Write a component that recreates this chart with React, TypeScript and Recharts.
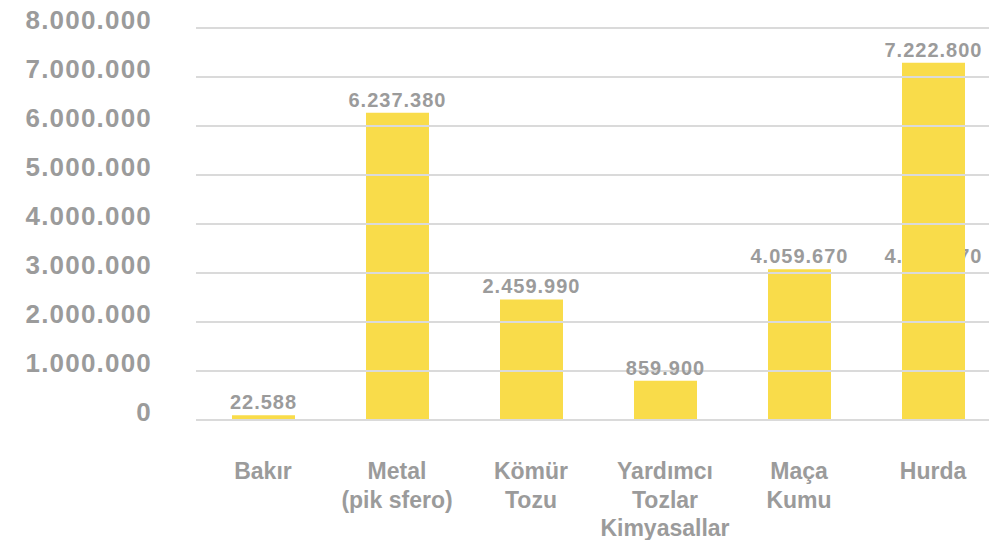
import { Bar, BarChart, LabelList, ReferenceLine, XAxis, YAxis } from 'recharts'

const categories = ['Bakır', 'Metal\n(pik sfero)', 'Kömür\nTozu', 'Yardımcı\nTozlar\nKimyasallar', 'Maça\nKumu', 'Hurda']
const barHeights = [95000, 6270000, 2460000, 800000, 3075000, 7290000]
const barLabels = ['22.588', '6.237.380', '2.459.990', '859.900', '4.059.670', '7.222.800']
// stray label sitting behind the Hurda bar in the original
const ghostHeights = [null, null, null, null, null, 3075000]
const ghostLabels = ['', '', '', '', '', '4.059.670']
const yTicks = [0, 1000000, 2000000, 3000000, 4000000, 5000000, 6000000, 7000000, 8000000]

const data = categories.map((name, i) => ({
  name,
  value: barHeights[i],
  label: barLabels[i],
  ghost: ghostHeights[i],
  ghostLabel: ghostLabels[i],
}))

const GRAY = '#9b9b9b'
const YELLOW = '#f9dc4a'
const FONT = '"Liberation Sans", Arial, sans-serif'

const fmt = (v: number) => v.toString().replace(/\B(?=(\d{3})+(?!\d))/g, '.')

function YTick({ x, y, payload }: any) {
  return (
    <text x={x} y={y + 1} textAnchor="end" fill={GRAY} fontSize={26} fontWeight={700} letterSpacing={1.2} fontFamily={FONT}>
      {fmt(payload.value)}
    </text>
  )
}

function XTick({ x, y, payload }: any) {
  const lines = String(payload.value).split('\n')
  return (
    <text x={x} y={y} textAnchor="middle" fill={GRAY} fontSize={23} fontWeight={700} fontFamily={FONT}>
      {lines.map((l, i) => (
        <tspan key={i} x={x} dy={i === 0 ? 59 : 28.5}>{l}</tspan>
      ))}
    </text>
  )
}

function GhostShape(props: any) {
  const lbl = props.ghostLabel ?? props.payload?.ghostLabel
  if (!lbl) return null
  return (
    <text x={props.x + props.width / 2} y={props.y - 6} textAnchor="middle" fill={GRAY} fontSize={20} fontWeight={700} letterSpacing={1} fontFamily={FONT}>
      {lbl}
    </text>
  )
}

export default function App() {
  return (
    <div style={{ position: 'absolute', left: 0, top: 0, width: 989, height: 540, overflow: 'hidden', background: '#fff' }}>
      <BarChart width={1000} height={540} data={data} margin={{ top: 28, right: 0, bottom: 0, left: 0 }}>
        <XAxis dataKey="name" axisLine={false} tickLine={false} tickSize={0} tickMargin={0} height={120} interval={0} tick={<XTick />} />
        <XAxis dataKey="name" xAxisId="ghost" hide />
        <YAxis domain={[0, 8000000]} ticks={yTicks} width={196} axisLine={false} tickLine={false} tickSize={0} tickMargin={44} tick={<YTick />} />
        <Bar dataKey="ghost" xAxisId="ghost" barSize={63} fill="transparent" shape={<GhostShape />} isAnimationActive={false} />
        <Bar dataKey="value" fill={YELLOW} barSize={63} isAnimationActive={false}>
          <LabelList dataKey="label" position="top" offset={6} fill={GRAY} fontSize={20} fontWeight={700} letterSpacing={1} fontFamily={FONT} />
        </Bar>
        {yTicks.map((t) => (
          <ReferenceLine key={t} y={t} stroke="#dadada" strokeWidth={2} />
        ))}
      </BarChart>
    </div>
  )
}
